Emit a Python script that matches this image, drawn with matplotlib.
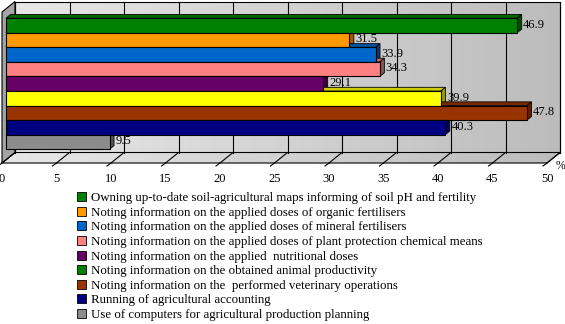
import numpy as np
import matplotlib.pyplot as plt
from matplotlib.patches import Polygon, Patch
from matplotlib.colors import LinearSegmentedColormap, to_rgb
from matplotlib.transforms import offset_copy

plt.rcParams['font.family'] = ['Liberation Serif', 'DejaVu Serif']

labels = [
    'Owning up-to-date soil-agricultural maps informing of soil pH and fertility',
    'Noting information on the applied doses of organic fertilisers',
    'Noting information on the applied doses of mineral fertilisers',
    'Noting information on the applied doses of plant protection chemical means',
    'Noting information on the applied  nutritional doses',
    'Noting information on the obtained animal productivity',
    'Noting information on the  performed veterinary operations',
    'Running of agricultural accounting',
    'Use of computers for agricultural production planning',
]
values = [46.9, 31.5, 33.9, 34.3, 29.1, 39.9, 47.8, 40.3, 9.5]
bar_colors = ['#008000', '#ff9900', '#0066cc', '#ff8080', '#660066',
              '#ffff00', '#993300', '#000080', '#8c8c8c']
key_colors = ['#008000', '#ff9900', '#0066cc', '#ff8080', '#660066',
              '#008000', '#993300', '#000080', '#8c8c8c']
ticks = list(range(0, 55, 5))

fig = plt.figure(figsize=(5.65, 3.24), dpi=100)
ax = fig.add_axes([2 / 565, 161 / 324, 545 / 565, 151 / 324])
ax.set_xlim(0, 50)
y_top, y_bot = -1.154, 9.217
ax.set_ylim(y_bot, y_top)
for s in ax.spines.values():
    s.set_visible(False)
ax.set_yticks([])
ax.set_xticks(ticks)
ax.tick_params(axis='x', length=0, pad=7, labelsize=9)
ax.set_facecolor('none')

depth = (13, 10.5)      # wall depth in pixels
front = (4, 3.3)        # bar front face offset
back = (8.5, 7)         # bar back face offset


def shift(x, y, d):
    p = ax.transData.transform((x, y))
    return ax.transData.inverted().transform(p + np.asarray(d))


def shade(c, k):
    return tuple(np.asarray(to_rgb(c)) * k)


def add_poly(pts, **kw):
    poly = Polygon(pts, closed=True, clip_on=False, **kw)
    ax.add_patch(poly)
    return poly


# walls
wall_pts = [shift(0, y_top, depth), shift(50, y_top, depth),
            shift(50, y_bot, depth), shift(0, y_bot, depth)]
floor_pts = [(0, y_bot), (50, y_bot), shift(50, y_bot, depth), shift(0, y_bot, depth)]
side_pts = [(0, y_top), (0, y_bot), shift(0, y_bot, depth), shift(0, y_top, depth)]

grad = LinearSegmentedColormap.from_list('wall', ['#e8e8e8', '#bcbcbc'])
for pts, z in [(wall_pts, 0.1), (floor_pts, 0.2)]:
    outline = add_poly(pts, facecolor='none', edgecolor='black', linewidth=0.8, zorder=z + 0.05)
    xs = [p[0] for p in pts]
    ys = [p[1] for p in pts]
    im = ax.imshow(np.linspace(0, 1, 256)[None, :], cmap=grad, aspect='auto',
                   extent=(min(xs), max(xs), max(ys), min(ys)), zorder=z)
    im.set_clip_path(outline)
    im.set_clip_box(fig.bbox)
add_poly(side_pts, facecolor='#a4a4a4', edgecolor='black', linewidth=0.8, zorder=0.3)
ax.set_xlim(0, 50)
ax.set_ylim(y_bot, y_top)

# gridlines on the back wall and floor, plus tick marks
for t in ticks:
    b0 = shift(t, y_bot, depth)
    b1 = shift(t, y_top, depth)
    ax.plot([b0[0], b1[0]], [b0[1], b1[1]], color='black', lw=0.8, zorder=0.5, clip_on=False)
    ax.plot([t, b0[0]], [y_bot, b0[1]], color='black', lw=0.8, zorder=0.5, clip_on=False)
    m = shift(t, y_bot, (-4, -3))
    ax.plot([t, m[0]], [y_bot, m[1]], color='black', lw=0.8, zorder=0.5, clip_on=False)

ax.annotate('%', xy=(50, y_bot), xytext=(9, -3), textcoords='offset pixels',
            ha='left', va='center', fontsize=8.5, annotation_clip=False)

pos = np.arange(len(values))

# depth faces of the bars
for i, (v, c) in enumerate(zip(values, bar_colors)):
    top = [shift(0, i - 0.5, front), shift(v, i - 0.5, front),
           shift(v, i - 0.5, back), shift(0, i - 0.5, back)]
    side = [shift(v, i - 0.5, front), shift(v, i + 0.5, front),
            shift(v, i + 0.5, back), shift(v, i - 0.5, back)]
    add_poly(top, facecolor=shade(c, 0.8), edgecolor='black', linewidth=0.6, zorder=3)
    add_poly(side, facecolor=shade(c, 0.6), edgecolor='black', linewidth=0.6, zorder=3)
    lx, ly = shift(v, i, (back[0] + 1.5, 4))
    ax.text(lx, ly, f'{v:.1f}', ha='left', va='center', fontsize=9, zorder=2, clip_on=False)

# front faces
ax.barh(pos, values, height=1.0, color=bar_colors, edgecolor='black', linewidth=0.8,
        transform=offset_copy(ax.transData, fig, x=front[0], y=front[1], units='dots'),
        zorder=4, clip_on=False)
ax.set_xlim(0, 50)
ax.set_ylim(y_bot, y_top)

handles = [Patch(facecolor=c, edgecolor='black', linewidth=0.6) for c in key_colors]
fig.legend(handles, labels, loc='upper left', bbox_to_anchor=(77 / 565, 1 - 192 / 324),
           frameon=False, fontsize=9.3, handlelength=0.7, handleheight=0.7,
           handletextpad=0.35, labelspacing=0.2, borderpad=0, borderaxespad=0)

fig.savefig('out.png', dpi=100)
